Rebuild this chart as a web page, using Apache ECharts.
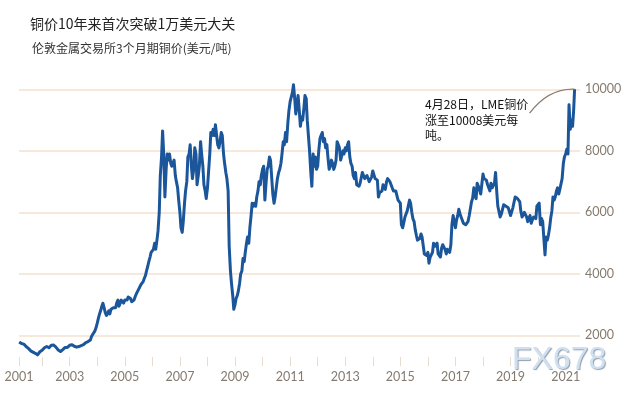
<!DOCTYPE html>
<html lang="zh">
<head>
<meta charset="UTF-8">
<title>铜价10年来首次突破1万美元大关</title>
<style>
    html, body { margin: 0; padding: 0; background: #fff; }
    #main { width: 640px; height: 396px; }
</style>
</head>
<body>
<div id="main"></div>
<script src="https://cdn.jsdelivr.net/npm/echarts@6/dist/echarts.min.js"></script>
<script>
    // LME 3-month copper, USD/t, sampled on the 1st and 15th of each month
    var c2001 = [1790, 1760, 1740, 1770, 1720, 1680, 1640, 1600, 1580, 1540, 1500, 1470, 1460, 1440, 1420, 1400, 1370, 1400, 1470, 1490]; // from March
    var c2002 = [1520, 1560, 1600, 1580, 1640, 1620, 1600, 1650, 1680, 1640, 1690, 1660, 1620, 1570, 1530, 1500, 1480, 1500, 1540, 1560, 1610, 1640, 1610, 1630];
    var c2003 = [1680, 1720, 1700, 1690, 1650, 1610, 1620, 1600, 1640, 1690, 1670, 1650, 1700, 1740, 1770, 1760, 1800, 1790, 1850, 1960, 2030, 2080, 2150, 2250];
    var c2004 = [2400, 2550, 2700, 2800, 2950, 3050, 2900, 2750, 2650, 2700, 2800, 2700, 2850, 2850, 2900, 2950, 2900, 3050, 3150, 2950, 3050, 3150, 3100, 3050];
    var c2005 = [3150, 3200, 3150, 3250, 3300, 3200, 3100, 3050, 3150, 3250, 3350, 3400, 3500, 3550, 3650, 3700, 3750, 3850, 3950, 4100, 4250, 4400, 4550, 4700];
    var c2006 = [4650, 4800, 5000, 4800, 5100, 5400, 6000, 7200, 7800, 8650, 7800, 6500, 7400, 7900, 7700, 7900, 7600, 7500, 7500, 7700, 7200, 7000, 6800, 6400];
    var c2007 = [6000, 5500, 5350, 5700, 6300, 6700, 7000, 7800, 7900, 8200, 7500, 7100, 7400, 8100, 7900, 6900, 7200, 7500, 8300, 7900, 7500, 6900, 6700, 6450];
    var c2008 = [6800, 7300, 7900, 8600, 8500, 8700, 8500, 8850, 8500, 8200, 8100, 8300, 8600, 8500, 7900, 7600, 7300, 7100, 6700, 4900, 4100, 3700, 3300, 2850];
    var c2009 = [3000, 3200, 3300, 3450, 3700, 4000, 4100, 4500, 4400, 4700, 5000, 5200, 5000, 5500, 5900, 6300, 6200, 6300, 6200, 6500, 6700, 7000, 6900, 7200];
    var c2010 = [7400, 7500, 6400, 6900, 7400, 7500, 7800, 7700, 7100, 6600, 6300, 6500, 6500, 7100, 7300, 7400, 7600, 7900, 8300, 8200, 8600, 8300, 8900, 9300];
    var c2011 = [9600, 9600, 9900, 10150, 9700, 9200, 9500, 9800, 9300, 8800, 9100, 9000, 9400, 9800, 9700, 9000, 9000, 8000, 7300, 6850, 7900, 7500, 7800, 7400];
    var c2012 = [7500, 8000, 8400, 8500, 8600, 8300, 8400, 8100, 8200, 7800, 7400, 7500, 7700, 7600, 7400, 7500, 7700, 8300, 8200, 8100, 7700, 7700, 8000, 7900];
    var c2013 = [8100, 8000, 8200, 8300, 7800, 7600, 7500, 7200, 7100, 7300, 6900, 6950, 6850, 6950, 7000, 7300, 7250, 7100, 7150, 7200, 7150, 7000, 7050, 7150];
    var c2014 = [7350, 7300, 7100, 7100, 7050, 6500, 6650, 6600, 6700, 6900, 6850, 6750, 7000, 7100, 7100, 7000, 6950, 6800, 6700, 6650, 6700, 6750, 6400, 6400];
    var c2015 = [6300, 5600, 5500, 5650, 5850, 5800, 6050, 6000, 6400, 6300, 6000, 5800, 5700, 5450, 5250, 5100, 5100, 5150, 5300, 5200, 4900, 4650, 4650, 4600];
    var c2016 = [4700, 4350, 4550, 4500, 4700, 5000, 4900, 4850, 5000, 4650, 4650, 4550, 4850, 4950, 4900, 4800, 4650, 4800, 4850, 4700, 4950, 5600, 5900, 5700];
    var c2017 = [5500, 5750, 5900, 6100, 5950, 5850, 5850, 5650, 5650, 5600, 5650, 5700, 5900, 5950, 6350, 6450, 6800, 6550, 6450, 6950, 6850, 6800, 6600, 6900];
    var c2018 = [7250, 7100, 7150, 7050, 6900, 6850, 6700, 6950, 6800, 6850, 6950, 7300, 6650, 6200, 6200, 5850, 5950, 5950, 6250, 6200, 6200, 6200, 6150, 6100];
    var c2019 = [5900, 5950, 6150, 6200, 6500, 6450, 6450, 6500, 6350, 6050, 5850, 5850, 6000, 5950, 5850, 5700, 5650, 5900, 5650, 5750, 5850, 5850, 5800, 6200];
    var c2020 = [6150, 6300, 5600, 5800, 5700, 5200, 4620, 5200, 5100, 5250, 5500, 5800, 6050, 6500, 6400, 6500, 6700, 6800, 6600, 6750, 6700, 7100, 7600, 7800];
    var c2021 = [7900, 8050, 7900, 9500, 8700, 9000, 8800, 9300]; // to mid-April
    var lastDate = [2021, 4, 28];
    var lastPrice = 10008;

    var xTicks = [2002, 2003, 2004, 2005, 2006, 2007, 2008, 2009, 2010, 2011, 2012, 2013, 2014, 2015, 2016, 2017, 2018, 2019, 2020, 2021];
    var xLabels = [2003, 2005, 2007, 2009, 2011, 2013, 2015, 2017, 2019, 2021];
    var yLabels = [2000, 4000, 6000, 8000, 10000];

    var title = '铜价10年来首次突破1万美元大关';
    var subtitle = '伦敦金属交易所3个月期铜价(美元/吨)';
    var note = '4月28日，LME铜价\n涨至10008美元每\n吨。';

    function toYear(y, m, d) {
        return y + (m - 1) / 12 + (d - 1) / 365;
    }

    var pts = [];
    function addYear(year, vals, startMonth) {
        vals.forEach(function (v, i) {
            var m = startMonth + Math.floor(i / 2);
            pts.push([toYear(year, m, i % 2 ? 15 : 1), v]);
        });
    }
    addYear(2001, c2001, 3);
    var others = [c2002, c2003, c2004, c2005, c2006, c2007, c2008, c2009, c2010, c2011,
        c2012, c2013, c2014, c2015, c2016, c2017, c2018, c2019, c2020, c2021];
    others.forEach(function (arr, i) { addYear(2002 + i, arr, 1); });
    var lastPt = [toYear(lastDate[0], lastDate[1], lastDate[2]), lastPrice];
    pts.push(lastPt);

    var xMin = 2001.16;
    var labelColor = '#857a6f';
    var gridColor = '#f4e1d0';

    var chart = echarts.init(document.getElementById('main'));
    var option = {
        backgroundColor: '#fff',
        animation: false,
        title: [{
            text: title,
            left: 30, top: 17, padding: 0,
            textStyle: { fontFamily: 'Noto Sans CJK SC', fontSize: 14, fontWeight: 'normal', color: '#222' }
        }, {
            text: subtitle,
            left: 32, top: 42, padding: 0,
            textStyle: { fontFamily: 'Noto Sans CJK SC', fontSize: 12, fontWeight: 'normal', color: '#333' }
        }],
        grid: { left: 19, right: 60, top: 74, bottom: 39, containLabel: false },
        xAxis: {
            type: 'value',
            min: xMin,
            max: 2021.52,
            axisLine: { show: false },
            axisTick: {
                show: true, length: 9,
                customValues: [xMin].concat(xTicks),
                lineStyle: { color: '#eadccd', width: 1 }
            },
            axisLabel: {
                customValues: [xMin].concat(xLabels),
                formatter: function (v) { return String(Math.floor(v)); },
                margin: 13,
                color: labelColor, fontFamily: 'Lato', fontSize: 12.5
            },
            splitLine: { show: false }
        },
        yAxis: {
            type: 'value',
            position: 'right',
            min: 1300,
            max: 10500,
            axisLine: { show: false },
            axisTick: { show: false, customValues: yLabels },
            axisLabel: {
                customValues: yLabels,
                formatter: function (v) { return String(v); },
                margin: 5,
                color: labelColor, fontFamily: 'Lato', fontSize: 12.5
            },
            splitLine: { show: true, lineStyle: { color: gridColor, width: 1.5 } }
        },
        series: [{
            type: 'line',
            data: pts,
            showSymbol: false,
            lineStyle: { color: '#1b569b', width: 3, join: 'round' },
            z: 3
        }]
    };
    chart.setOption(option);

    // annotation curve ends at the last data point
    var end = chart.convertToPixel({ seriesIndex: 0 }, lastPt);
    chart.setOption({
        graphic: [{
            type: 'bezierCurve',
            shape: {
                x1: end[0] - 45, y1: end[1] + 24,
                x2: end[0], y2: end[1],
                cpx1: end[0] - 26, cpy1: end[1] - 1
            },
            style: { stroke: '#8c7b6e', lineWidth: 1.3, fill: null },
            z: 10
        }, {
            type: 'text',
            left: 425, top: 97,
            style: {
                text: note,
                font: '12px "Noto Sans CJK SC"',
                lineHeight: 15.5,
                fill: '#111'
            },
            z: 10
        }, {
            type: 'text',
            left: 512, top: 344,
            style: {
                text: 'FX678',
                font: '32px "Liberation Sans"',
                fill: '#cfe0f2',
                textShadowColor: 'rgba(120,135,150,0.8)',
                textShadowOffsetX: 1,
                textShadowOffsetY: 1,
                textShadowBlur: 1
            },
            z: 20
        }]
    });
</script>
</body>
</html>
